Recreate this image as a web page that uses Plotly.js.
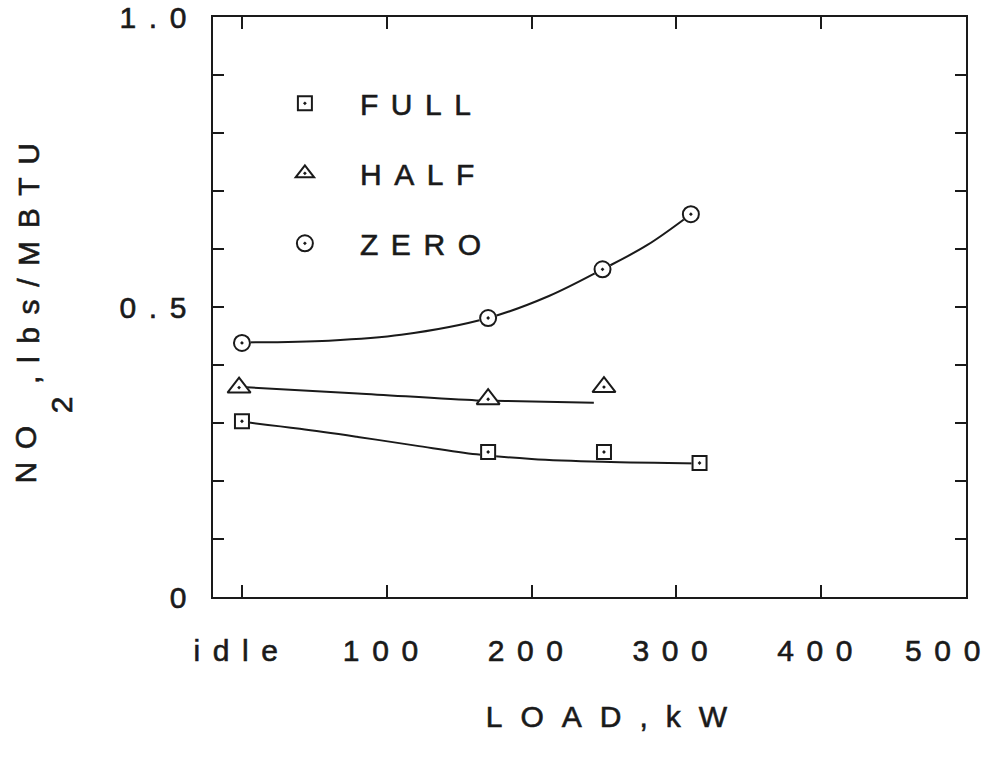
<!DOCTYPE html>
<html>
<head>
<meta charset="utf-8">
<script src="https://cdn.plot.ly/plotly-3.0.1.min.js"></script>
<style>
  html, body { margin: 0; padding: 0; background: #fff; }
  #chart { width: 995px; height: 763px; }
  svg text { letter-spacing: 0.42em; stroke: #1a1a1a; stroke-width: 0.6px; }
  svg .g-xtitle text { letter-spacing: 0.6em; }
  svg .g-xtitle { transform: translateX(26px); }
  svg .xaxislayer-above g.xtick:last-of-type { transform: translateX(-17px); }
  .g-ytitle tspan[style*="font-size:70%"] { font-size: 30px !important; baseline-shift: -0.9em; }
</style>
</head>
<body>
<div id="chart"></div>
<script>
// ---- data ----
const tickVals = [0, 100, 200, 300, 400, 500];
const tickText = ['idle', '100', '200', '300', '400', '500'];
const yTickVals = [0, 0.5, 1.0];
const yTickText = ['0', '0.5', '1.0'];
const yMinorVals = [0.1, 0.2, 0.3, 0.4, 0.6, 0.7, 0.8, 0.9];

// measured points
const fullX = [0, 170, 250, 316];
const fullY = [0.303, 0.250, 0.250, 0.231];
const halfX = [-2, 170, 250];
const halfY = [0.361, 0.341, 0.362];
const zeroX = [0, 170, 249, 310];
const zeroY = [0.438, 0.481, 0.565, 0.660];

// hand-drawn fitted curves
const fullFitX = [0, 40, 80, 120, 162, 200, 249, 316];
const fullFitY = [0.302, 0.290, 0.276, 0.261, 0.246, 0.238, 0.233, 0.230];
const halfFitX = [0, 80, 162, 182, 243];
const halfFitY = [0.362, 0.351, 0.339, 0.338, 0.335];
const zeroFitX = [0, 60, 110, 170, 212, 249, 280, 310];
const zeroFitY = [0.439, 0.442, 0.452, 0.481, 0.519, 0.565, 0.607, 0.660];

const INK = '#1a1a1a';
const FONT = 'Liberation Sans, Arial, Helvetica, sans-serif';

function fit(x, y) {
  return { x: x, y: y, mode: 'lines', line: { color: INK, width: 2, shape: 'spline', smoothing: 1 },
           showlegend: false, hoverinfo: 'skip' };
}
function mask(x, y, sym, size) {
  return { x: x, y: y, mode: 'markers', showlegend: false, hoverinfo: 'skip',
           marker: { symbol: sym, size: size, color: '#ffffff', line: { width: 0 } } };
}
function pts(x, y, name, sym, size, grp) {
  return { x: x, y: y, mode: 'markers', name: name, legendgroup: grp,
           marker: { symbol: sym, size: size, color: INK, line: { color: INK, width: 2 } } };
}

const traces = [
  fit(fullFitX, fullFitY),
  fit(halfFitX, halfFitY),
  fit(zeroFitX, zeroFitY),
  mask(fullX, fullY, 'square', 16),
  mask(halfX, halfY, 'triangle-up', 22),
  mask(zeroX, zeroY, 'circle', 18),
  pts(fullX, fullY, 'FULL', 'square-open-dot', 14, 'a'),
  pts(halfX, halfY, 'HALF', 'triangle-up-open-dot', 20, 'b'),
  pts(zeroX, zeroY, 'ZERO', 'circle-open-dot', 16, 'c')
];

const layout = {
  width: 995, height: 763,
  margin: { l: 213, r: 29, t: 17, b: 166, pad: 0 },
  paper_bgcolor: '#ffffff', plot_bgcolor: '#ffffff',
  font: { family: FONT, color: INK, size: 30 },
  showlegend: true,
  legend: {
    x: 0.049, y: 0.896, xanchor: 'left', yanchor: 'top',
    bgcolor: 'rgba(0,0,0,0)', borderwidth: 0,
    itemwidth: 100, traceorder: 'grouped', tracegroupgap: 28,
    font: { family: FONT, size: 30, color: INK }
  },
  xaxis: {
    range: [-20, 500], tickmode: 'array', tickvals: tickVals, ticktext: tickText,
    ticks: 'inside', ticklen: 12, tickwidth: 2, tickcolor: INK,
    showline: true, linewidth: 2, linecolor: INK, mirror: 'ticks',
    showgrid: false, zeroline: false, ticklabelstandoff: 26, ticklabeloverflow: 'allow',
    tickfont: { family: FONT, size: 30, color: INK },
    title: { text: 'LOAD,kW', standoff: 40, font: { family: FONT, size: 30, color: INK } }
  },
  yaxis: {
    range: [0, 1], tickmode: 'array', tickvals: yTickVals, ticktext: yTickText,
    ticks: 'inside', ticklen: 11, tickwidth: 2, tickcolor: INK,
    minor: { tickvals: yMinorVals, ticks: 'inside', ticklen: 11, tickwidth: 2, tickcolor: INK, showgrid: false },
    showline: true, linewidth: 2, linecolor: INK, mirror: 'ticks',
    showgrid: false, zeroline: false, ticklabelstandoff: 6,
    tickfont: { family: FONT, size: 30, color: INK },
    title: { text: 'NO<sub>2</sub>,lbs/MBTU', standoff: 74, font: { family: FONT, size: 30, color: INK } }
  }
};

Plotly.newPlot('chart', traces, layout, { staticPlot: true, displayModeBar: false });
</script>
</body>
</html>
